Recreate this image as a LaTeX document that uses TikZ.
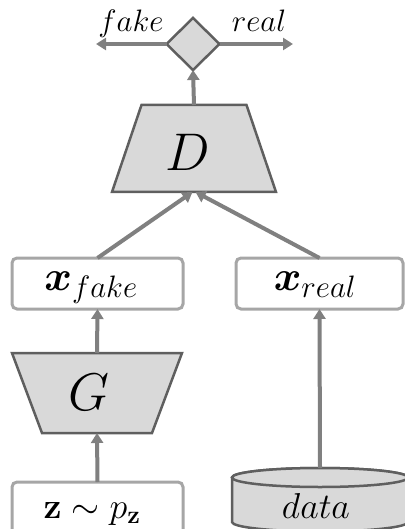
\RequirePackage{fix-cm}
\documentclass[tikz,border=0pt]{standalone}
\usepackage{bm}
\usetikzlibrary{shapes.geometric,arrows.meta}
\definecolor{arr}{RGB}{128,128,128}
\definecolor{boxb}{RGB}{166,166,166}
\definecolor{dark}{RGB}{95,95,95}
\definecolor{shfill}{RGB}{217,217,217}
\newcommand{\subsz}[1]{\mbox{\fontsize{31}{36}\selectfont$#1$}}
\begin{document}
\begin{tikzpicture}[x=1pt,y=1pt,
  arrowc/.style={draw=arr, line width=4pt, -{Triangle[length=10pt,width=12pt]}},
  box/.style={draw=boxb, line width=3pt, rounded corners=5pt, fill=white, inner sep=0pt, outer sep=0pt},
  shp/.style={draw=dark, fill=shfill, line width=2.5pt, line join=miter},
  holder/.style={inner sep=0pt, outer sep=0pt},
  lab/.style={anchor=base, inner sep=0pt, outer sep=0pt},
  fsA/.style={font=\fontsize{31}{36}\selectfont},
  fsD/.style={font=\fontsize{53}{60}\selectfont},
  fsX/.style={font=\fontsize{42}{48}\selectfont},
  fsT/.style={font=\fontsize{36}{42}\selectfont},
]
\useasboundingbox (0,0) rectangle (404,-529);

% decision diamond
\node[diamond, draw=dark, fill=shfill, line width=2.5pt, minimum width=53pt, minimum height=52pt, inner sep=0pt, outer sep=0pt] (dec) at (193,-44) {};
\coordinate (fk) at (96,-44);
\coordinate (rl) at (293,-44);
\node[lab, fsA] (fkl) at (131,-32) {$fake$};
\node[lab, fsA] (rll) at (259,-32) {$real$};

% discriminator
\node[holder, minimum width=164pt, minimum height=87pt] (D) at (194,-148.5) {};
\path[shp] (D.south west) -- (D.south east) -- ([xshift=-29.5pt]D.north east) -- ([xshift=29.5pt]D.north west) -- cycle;
\node[lab, fsD] (Dl) at (188,-171) {$D$};

% sample boxes
\node[box, minimum width=171pt, minimum height=51pt] (xf) at (97.5,-283.5) {};
\node[lab, fsX] (xfl) at (91,-290) {$\bm{x}_{\subsz{fake}}$};
\node[box, minimum width=167pt, minimum height=51pt] (xr) at (319.5,-283.5) {};
\node[lab, fsX] (xrl) at (315,-290) {$\bm{x}_{\subsz{real}}$};

% generator
\node[holder, minimum width=170pt, minimum height=80pt] (G) at (97,-393) {};
\path[shp] (G.north west) -- (G.north east) -- ([xshift=-30pt]G.south east) -- ([xshift=30pt]G.south west) -- cycle;
\node[lab, fsD] (Gl) at (89,-410) {$G$};

% noise box
\node[box, minimum width=171pt, minimum height=55pt] (z) at (97.5,-509.5) {};
\node[lab, fsT] (zl) at (92,-518) {$\mathbf{z}\sim p_{\mathbf{z}}$};

% data cylinder
\node[holder, minimum width=176pt, minimum height=64pt] (data) at (320,-500) {};
\path[shp] (232,-477.5) -- (232,-522) arc[start angle=180, end angle=360, x radius=88pt, y radius=9.5pt] -- (408,-477.5) arc[start angle=0, end angle=180, x radius=88pt, y radius=9.5pt] -- cycle;
\draw[shp] (320,-477.5) ellipse [x radius=88pt, y radius=9.5pt];
\node[lab, fsT] (datal) at (316,-518) {$data$};

% connectors
\draw[arrowc] (D.north) -- (dec.south);
\draw[arrowc] (dec.west) -- (fk);
\draw[arrowc] (dec.east) -- (rl);
\draw[arrowc] (xf.north) -- ([xshift=-1.5pt]D.south);
\draw[arrowc] (xr.north) -- ([xshift=1.5pt]D.south);
\draw[arrowc] (G.north) -- (xf.south);
\draw[arrowc] (z.north) -- (G.south);
\draw[arrowc] (data.north) -- (xr.south);
\end{tikzpicture}
\end{document}
